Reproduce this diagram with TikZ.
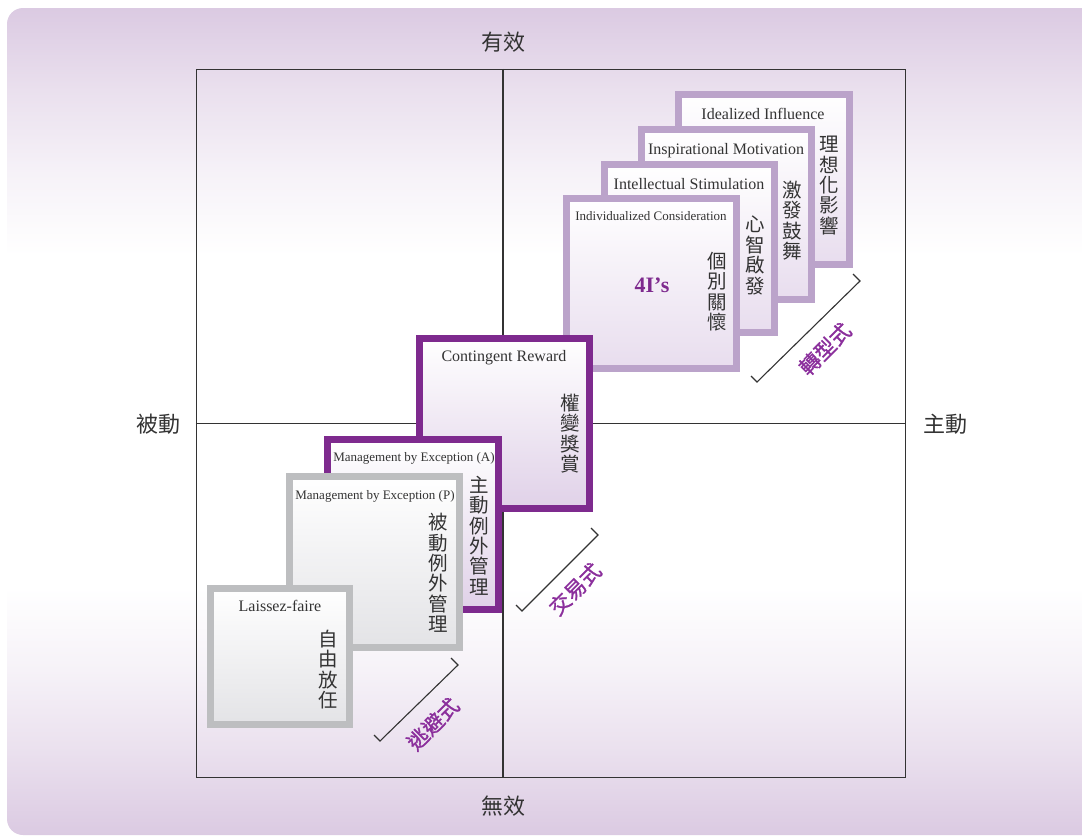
\documentclass[tikz,border=0pt]{standalone}
\usepackage{fontspec}
\setmainfont{Liberation Serif}
\newfontfamily\cjk{Noto Sans CJK TC}
\newfontfamily\cjkm[FakeBold=1.3]{Noto Sans CJK TC}
\definecolor{bgp}{HTML}{DBCAE2}
\definecolor{bgm}{HTML}{EAE0EE}
\definecolor{bgl}{HTML}{F6F2F8}
\definecolor{lpb}{HTML}{BBA3CA}
\definecolor{lpf}{HTML}{E8DDEE}
\definecolor{dpb}{HTML}{7E2A8E}
\definecolor{dpf}{HTML}{E0D1E8}
\definecolor{gyb}{HTML}{BDBEC0}
\definecolor{gyf}{HTML}{E3E3E6}
\definecolor{lab}{HTML}{8B2F9C}
\definecolor{txt}{HTML}{333333}
\pgfdeclareverticalshading{bgshade}{100bp}{color(0bp)=(bgp); color(25bp)=(bgp); color(30bp)=(bgm); color(35bp)=(bgl); color(40bp)=(white); color(60bp)=(white); color(65bp)=(bgl); color(70bp)=(bgm); color(75bp)=(bgp); color(100bp)=(bgp)}
\tikzset{
  frame/.style={draw=txt, line width=1.5pt, inner sep=0pt, minimum width=709pt, minimum height=708pt},
  axisline/.style={draw=txt, line width=1.2pt},
  boxbase/.style={rectangle, line width=7pt, inner sep=0pt, minimum width=170pt, minimum height=170pt},
  lbox/.style={boxbase, draw=lpb, top color=white, bottom color=lpf},
  dbox/.style={boxbase, draw=dpb, line width=6.5pt, top color=white, bottom color=dpf},
  gbox/.style={boxbase, draw=gyb, top color=white, bottom color=gyf},
  ttl/.style={font=\fontsize{16}{16}\selectfont, text=txt, inner sep=0pt, anchor=base},
  sttl/.style={font=\fontsize{13}{13}\selectfont, text=txt, inner sep=0pt, anchor=base},
  vt/.style={font=\cjk\fontsize{19.5}{20.4}\selectfont, text=txt, align=center, inner sep=0pt, anchor=center},
  axl/.style={font=\cjk\fontsize{22}{22}\selectfont, text=txt, inner sep=0pt},
  kind/.style={font=\cjkm\fontsize{21}{21}\selectfont, text=lab, inner sep=0pt, rotate=45},
  brk/.style={draw=txt, line width=1.1pt}
}
\begin{document}
\begin{tikzpicture}[x=1pt,y=-1pt]
\useasboundingbox (0,0) rectangle (1082,836);
\path[shading=bgshade, rounded corners=16pt] (7,8) rectangle (1110,835);

% frame and axes
\node[frame] (fr) at (551,423.5) {};
\node[axl] (top) at (503,42) {有效};
\node[axl] (bot) at (503,806) {無效};
\node[axl] (lft) at (158,424) {被動};
\node[axl] (rgt) at (945,424) {主動};
\draw[axisline] (top |- fr.north) -- (top |- fr.south);
\draw[axisline] (fr.west) -- (fr.east);

% transformational boxes
\node[lbox, minimum width=171pt] (ii) at (764,179.5) {};
\node[ttl] (iit) at (763,119) {Idealized Influence};
\node[vt] (iic) at (829,185.5) {理\\想\\化\\影\\響};

\node[lbox] (im) at (726.5,214.5) {};
\node[ttl] (imt) at (726,154) {Inspirational Motivation};
\node[vt] (imc) at (792,220.5) {激\\發\\鼓\\舞};

\node[lbox, minimum height=168pt] (is) at (689,248) {};
\node[ttl] (ist) at (689,189) {Intellectual Stimulation};
\node[vt] (isc) at (755,255.5) {心\\智\\啟\\發};

\node[lbox] (ic) at (651.5,283.5) {};
\node[sttl] (ict) at (651,220) {Individualized Consideration};
\node[vt] (icc) at (717,291.5) {個\\別\\關\\懷};
\node[font=\fontsize{22}{22}\selectfont\bfseries, text=dpb, inner sep=0pt, anchor=base] (fouri) at (652,292) {4I’s};

% transactional
\node[dbox] (cr) at (504.5,423.5) {};
\node[ttl] (crt) at (504,361) {Contingent Reward};
\node[vt] (crc) at (570,433.5) {權\\變\\獎\\賞};

\node[dbox, minimum width=171pt] (ma) at (413,524.5) {};
\node[sttl] (mat) at (414,461) {Management by Exception (A)};
\node[vt] (mac) at (479,535.5) {主\\動\\例\\外\\管\\理};

% passive
\node[gbox, minimum height=171pt] (mp) at (374,562) {};
\node[sttl] (mpt) at (375,499) {Management by Exception (P)};
\node[vt] (mpc) at (438,573) {被\\動\\例\\外\\管\\理};

\node[gbox, minimum width=139pt, minimum height=136pt] (lf) at (280,656.5) {};
\node[ttl] (lft2) at (280,611) {Laissez-faire};
\node[vt] (lfc) at (328,669.5) {自\\由\\放\\任};

% brackets
\coordinate (a1) at (853,274); \coordinate (a2) at (860,281);
\coordinate (a3) at (757,382); \coordinate (a4) at (751,376);
\draw[brk] (a1) -- (a2) -- (a3) -- (a4);
\node[kind] (tf) at (825,349) {轉型式};

\coordinate (b1) at (591,528); \coordinate (b2) at (598,535);
\coordinate (b3) at (522,611); \coordinate (b4) at (516,605);
\draw[brk] (b1) -- (b2) -- (b3) -- (b4);
\node[kind] (ts) at (575,589) {交易式};

\coordinate (c1) at (451,658); \coordinate (c2) at (458,665);
\coordinate (c3) at (380,741); \coordinate (c4) at (374,735);
\draw[brk] (c1) -- (c2) -- (c3) -- (c4);
\node[kind] (av) at (433,724) {逃避式};
\end{tikzpicture}
\end{document}
